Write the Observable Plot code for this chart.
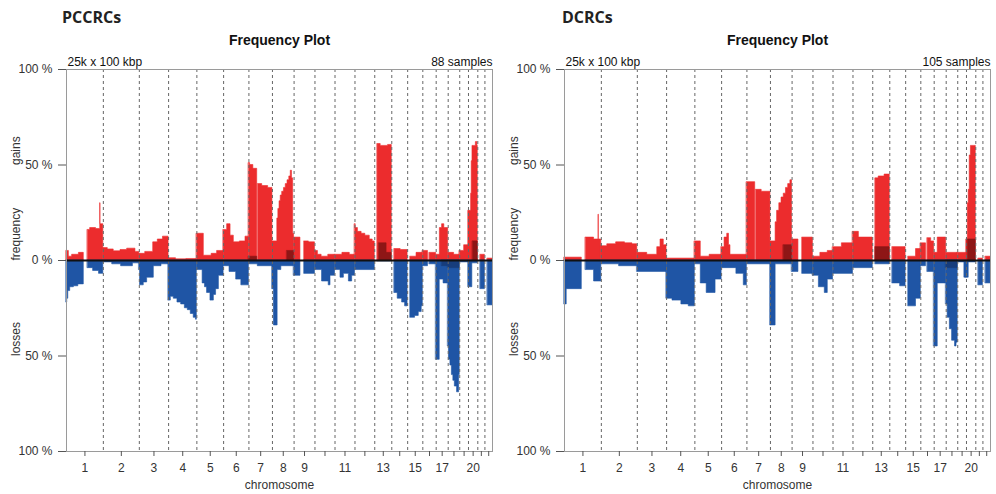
<!DOCTYPE html>
<html>
<head>
<meta charset="utf-8">
<script src="https://cdn.jsdelivr.net/npm/d3@7"></script>
<script src="https://cdn.jsdelivr.net/npm/@observablehq/plot@0.6"></script>
<style>
  html, body { margin: 0; padding: 0; background: #fff; }
  #wrap { display: flex; width: 996px; height: 494px; overflow: hidden; }
  .panel { width: 498px; }
  .ptitle { height: 30px; box-sizing: border-box; padding-top: 7px; font: bold 16px/20px "Open Sans", sans-serif; color: #222; }
  .panel svg { display: block; }
</style>
</head>
<body>
<div id="wrap"></div>
<script>
// ---- chromosome layout (Mb) ----
const chromNames = ["1","2","3","4","5","6","7","8","9","10","11","12","13","14","15","16","17","18","19","20","21","22"];
const chromLengths = [249.25,243.20,198.02,191.15,180.92,171.12,159.14,146.36,141.21,135.53,135.01,133.85,115.17,107.35,102.53,90.35,81.20,78.08,59.13,63.03,48.13,51.30];
const labeledChroms = ["1","2","3","4","5","6","7","8","9","11","13","15","17","20"];

// ---- panel texts ----
const panelTitles = ["PCCRCs", "DCRCs"];
const sampleCounts = [88, 105];
const binLabel = "25k x 100 kbp";
const plotTitle = "Frequency Plot";

// ---- frequencies: [chromosome, start Mb, end Mb, percent] ----
const pccrcGains = [
 [1,0,16,5],[1,16,38,2],[1,38,84,3],[1,84,117,4],[1,144,160,16],[1,160,200,17],[1,200,228,16.5],[1,228,230,30],[1,230,249,19],
 [2,0,30,6.5],[2,30,70,5.8],[2,70,116,4.8],[2,116,161,5.5],[2,161,217,6.2],[2,217,243,4.5],
 [3,0,40,3.5],[3,40,94,4.5],[3,94,125,9.5],[3,125,160,11],[3,160,198,12.5],
 [4,0,50,1.2],[4,50,120,0.6],[4,120,191,0.8],
 [5,0,47,14],[5,47,100,2.5],[5,100,137,3.5],[5,137,181,5],
 [6,0,24,16],[6,24,47,19],[6,47,69,13],[6,69,110,9.5],[6,110,148,10],[6,148,171,12.5],
 [7,0,8,51],[7,8,30,50],[7,30,56,48],[7,62,90,40],[7,90,130,39],[7,130,159,38],
 [8,0,33,10],[8,33,40,22],[8,40,48,27],[8,48,56,31],[8,56,66,34],[8,66,78,36],[8,78,90,38],[8,90,102,40],[8,102,114,42],[8,114,124,44],[8,124,132,47],[8,132,140,43],[8,140,146,14],
 [9,0,43,12],[9,70,100,10],[9,100,141,9.5],
 [10,0,20,5],[10,20,45,3],[10,45,90,2],[10,90,135.5,3],
 [11,0,50,3],[11,50,100,4],[11,100,135,3],
 [12,0,5,19],[12,5,20,17],[12,20,45,15],[12,45,70,14],[12,70,100,13],[12,100,120,11],[12,120,134,10],
 [13,19,40,61],[13,40,90,60],[13,90,115,60.5],
 [14,19,60,6],[14,60,107,5.5],
 [15,19,60,2],[15,60,102.5,4],
 [16,0,35,5],[16,46,90,4],
 [17,0,25,3],[17,25,40,17],[17,40,55,19],[17,55,81,17],
 [18,0,40,4],[18,40,78,3],
 [19,0,30,5],[19,30,59,8],
 [20,0,18,26],[20,18,22,35],[20,22,27,52],[20,27,50,60],[20,50,60,62],[20,60,63,60],
 [21,19,48,3],
 [22,19,51,1]
];
const pccrcLosses = [
 [1,0,5,22],[1,5,12,20],[1,12,25,16],[1,25,50,14],[1,50,80,13.5],[1,80,117,12.5],[1,144,180,4],[1,180,220,5.5],[1,220,249,7],
 [2,0,60,1],[2,60,120,2],[2,120,200,3],[2,200,243,1.5],
 [3,0,5,5],[3,5,30,13],[3,30,53,11.5],[3,53,98,9],[3,98,150,3],[3,150,198,2],
 [4,0,15,21],[4,15,35,19],[4,35,60,20],[4,60,85,22],[4,85,110,23],[4,110,130,25],[4,130,150,26],[4,150,170,28],[4,170,185,30],[4,185,191,31],
 [5,0,39,5],[5,39,55,12],[5,55,69,14],[5,69,92,17],[5,92,115,21],[5,115,130,18],[5,130,149,15],[5,149,181,8],
 [6,0,40,3],[6,40,85,6],[6,85,120,10],[6,120,171,13],
 [7,0,60,2],[7,60,159,3],
 [8,0,10,15],[8,10,35,34],[8,35,60,5],[8,60,146,3],
 [9,0,43,8],[9,70,141,7],
 [10,0,48,5],[10,48,93,11],[10,93,105,13],[10,105,135.5,8],
 [11,0,37,5],[11,37,60,9],[11,60,94,7],[11,94,116,11],[11,116,135,8],
 [12,0,134,5],
 [13,19,115,0.5],
 [14,19,40,17],[14,40,70,20],[14,70,90,22],[14,90,107,24],
 [15,19,50,30],[15,50,75,29],[15,75,95,27],[15,95,102.5,24],
 [16,0,35,3],[16,46,90,2],
 [17,0,24,52],[17,24,50,10],[17,50,81,12],
 [18,0,5,45],[18,5,15,52],[18,15,25,55],[18,25,35,60],[18,35,45,63],[18,45,60,66],[18,60,74,69],[18,74,78,60],
 [19,0,59,1],
 [20,0,26,14],[20,26,63,1.5],
 [21,19,48,15],
 [22,19,51,23.5]
];
const pccrcHighGains = [[7,0,56,2],[8,100,146,5],[13,30,80,9],[13,80,115,4],[20,30,63,10]];
const pccrcHighLosses = [[17,40,81,3],[18,0,78,4]];

const dcrcGains = [
 [1,0,117,1.5],[1,144,200,12],[1,200,230,11],[1,230,232,24],[1,232,249,11],
 [2,0,40,7.5],[2,40,100,8.5],[2,100,160,9.5],[2,160,210,9],[2,210,243,8.5],
 [3,0,67,4],[3,67,135,3],[3,135,157,7],[3,157,179,11],[3,179,198,8],
 [4,0,191,1],
 [5,0,40,10],[5,40,100,2],[5,100,181,3],
 [6,0,20,7],[6,20,38,12],[6,38,50,14],[6,50,60,8],[6,60,171,3],
 [7,0,56,41],[7,62,100,37],[7,100,159,36],
 [8,0,35,10],[8,35,45,20],[8,45,60,26],[8,60,75,30],[8,75,90,33],[8,90,105,35],[8,105,120,38],[8,120,135,40],[8,135,146,42],
 [9,0,43,11],[9,70,141,12],
 [10,0,50,2],[10,50,100,4],[10,100,135.5,5],
 [11,0,60,7],[11,60,135,9],
 [12,0,40,15],[12,40,134,12],
 [13,19,40,43],[13,40,80,44],[13,80,115,45],
 [14,19,107,7],
 [15,19,70,2],[15,70,102.5,6],
 [16,0,35,9],[16,46,70,11.7],[16,70,90,10],
 [17,0,24,4],[17,24,81,12],
 [18,0,78,4],
 [19,0,59,4],
 [20,0,9,11],[20,9,15,30],[20,15,22,37],[20,22,30,55],[20,30,63,60],
 [21,19,48,1],
 [22,19,51,2]
];
const dcrcLosses = [
 [1,0,15,23],[1,15,117,15],[1,144,200,5],[1,200,249,11],
 [2,0,120,2],[2,120,243,3],
 [3,0,198,6],
 [4,0,40,20],[4,40,100,21],[4,100,150,23],[4,150,191,24],
 [5,0,40,2],[5,40,80,12],[5,80,140,17],[5,140,181,10],
 [6,0,100,4],[6,100,150,7],[6,150,171,13],
 [7,0,159,2],
 [8,0,35,34],[8,35,146,2],
 [9,0,43,6],[9,70,141,7],
 [10,0,40,8],[10,40,80,14],[10,80,100,17],[10,100,135.5,10],
 [11,0,135,7],
 [12,0,134,4],
 [13,19,115,2],
 [14,19,70,12],[14,70,107,13.5],
 [15,19,70,24],[15,70,102.5,20],
 [16,0,35,3],[16,46,90,6],
 [17,0,24,45],[17,24,81,12],
 [18,0,10,23],[18,10,25,30],[18,25,40,36],[18,40,60,42],[18,60,70,45],[18,70,78,43],
 [19,0,45,1],[19,45,59,9],
 [20,0,15,9],[20,15,63,1],
 [21,19,48,13],
 [22,19,51,12]
];
const dcrcHighGains = [[8,90,146,8],[13,19,115,7],[20,10,63,11]];
const dcrcHighLosses = [[18,0,78,4]];

// ---- colours ----
const gainColor = "#EC2C2D", lossColor = "#1F55A5";
const highGainColor = "#8E1616", highLossColor = "#173D7C";

// ---- derived genome coordinates ----
const offsets = [];
let acc = 0;
for (const L of chromLengths) { offsets.push(acc); acc += L; }
const genomeLength = acc;
const boundaries = offsets.slice(1);
const centers = chromLengths.map((L, i) => offsets[i] + L / 2);
const centerLabel = new Map(centers.map((c, i) => [c, labeledChroms.includes(chromNames[i]) ? chromNames[i] : ""]));

// step outline points, one run per contiguous block
function toSteps(rows, sign) {
  const pts = [];
  let run = 0, prevC = null, prevE = null;
  for (const [c, s, e, v] of rows) {
    if (c !== prevC || s !== prevE) run++;
    pts.push({x: offsets[c - 1] + s, v: sign * v, run});
    pts.push({x: offsets[c - 1] + e, v: sign * v, run});
    prevC = c; prevE = e;
  }
  return pts;
}

function panel(idx, gains, losses, hiG, hiL) {
  const div = document.createElement("div");
  div.className = "panel";
  const t = document.createElement("div");
  t.className = "ptitle";
  t.style.paddingLeft = idx === 0 ? "62px" : "64px";
  t.textContent = panelTitles[idx];
  div.appendChild(t);

  const areaOpts = (fill) => ({x1: "x", y1: () => 0, y2: "v", z: "run", fill, stroke: fill, strokeWidth: 0.6, curve: "linear"});
  const chart = Plot.plot({
    width: 498, height: 464,
    marginLeft: 66, marginRight: 6, marginTop: 39, marginBottom: 43,
    x: {domain: [0, genomeLength], axis: null},
    y: {domain: [-100, 100], axis: null},
    style: {fontFamily: "'Liberation Sans', Arial, sans-serif", fontSize: "12px", color: "#333", background: "#fff"},
    marks: [
      Plot.area(toSteps(gains, 1), areaOpts(gainColor)),
      Plot.area(toSteps(losses, -1), areaOpts(lossColor)),
      Plot.area(toSteps(hiG, 1), areaOpts(highGainColor)),
      Plot.area(toSteps(hiL, -1), areaOpts(highLossColor)),
      Plot.ruleX(boundaries, {stroke: "#666", strokeDasharray: "3,3", strokeWidth: 1}),
      Plot.ruleY([0], {stroke: "#111", strokeWidth: 2}),
      Plot.frame({stroke: "#9a9a9a"}),
      Plot.axisY({ticks: [-100, -50, 0, 50, 100], tickFormat: d => Math.abs(d) + " %", tickSize: 8, tickPadding: 6, label: null, stroke: "#555", fontSize: 12}),
      Plot.axisX(centers, {tickSize: 5, tickPadding: 7, tickFormat: d => centerLabel.get(d), label: null, stroke: "#555", fontSize: 12}),
      Plot.text([plotTitle], {frameAnchor: "top", dy: -34, fontWeight: "bold", fontSize: 14, fill: "#111"}),
      Plot.text([binLabel], {frameAnchor: "top-left", textAnchor: "start", dx: 1, dy: -12, fontSize: 12, fill: "#111"}),
      Plot.text([sampleCounts[idx] + " samples"], {frameAnchor: "top-right", textAnchor: "end", dy: -12, fontSize: 12, fill: "#111"}),
      Plot.text(["chromosome"], {frameAnchor: "bottom", dy: 37, fontSize: 12, fill: "#333"}),
      Plot.text([{y: 50, t: "gains"}, {y: 0, t: "frequency"}, {y: -50, t: "losses"}],
        {y: "y", text: "t", frameAnchor: "left", dx: -50, rotate: -90, fontSize: 12, fill: "#333"})
    ]
  });
  div.appendChild(chart);
  return div;
}

const wrap = document.getElementById("wrap");
wrap.appendChild(panel(0, pccrcGains, pccrcLosses, pccrcHighGains, pccrcHighLosses));
wrap.appendChild(panel(1, dcrcGains, dcrcLosses, dcrcHighGains, dcrcHighLosses));
</script>
</body>
</html>
